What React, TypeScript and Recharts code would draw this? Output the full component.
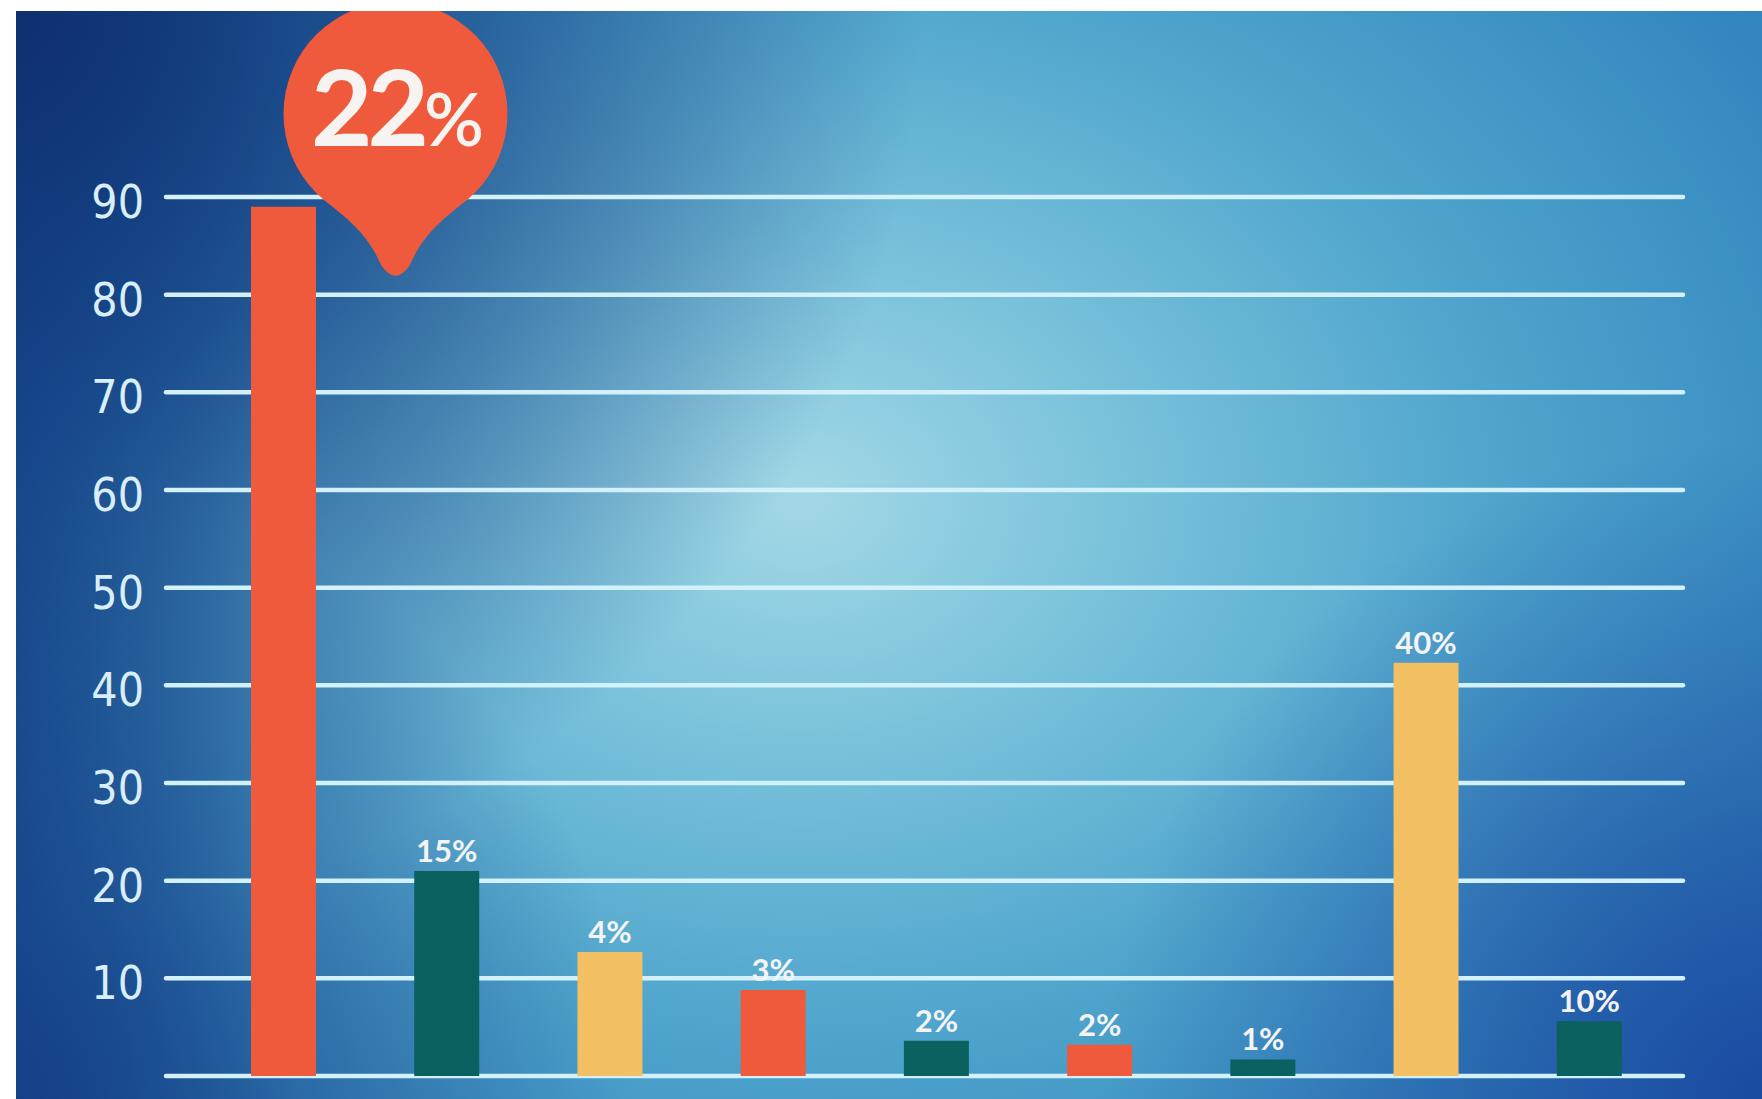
import { BarChart, Bar, XAxis, YAxis, CartesianGrid, Cell, LabelList } from "recharts";

const categories = ["1", "2", "3", "4", "5", "6", "7", "8", "9"];
const values = [89, 21, 12.7, 8.8, 3.6, 3.2, 1.7, 42.3, 5.6];
const labels = ["22%", "15%", "4%", "3%", "2%", "2%", "1%", "40%", "10%"];
const barColors = ["#f05a3c", "#0a6160", "#f3bf63", "#f05a3c", "#0a6160", "#f05a3c", "#0a6160", "#f3bf63", "#0a6160"];
const yTicks = [0, 10, 20, 30, 40, 50, 60, 70, 80, 90];

const data = categories.map((name, i) => ({ name, value: values[i], label: labels[i] }));

function Pin({ px, py, text }: { px: number; py: number; text: string }) {
  const d =
    `M ${px - 70} ${py + 87} C ${px - 45} ${py + 108} ${px - 28} ${py + 120} ${px - 14} ${py + 152} ` +
    `Q ${px} ${py + 172} ${px + 14} ${py + 152} C ${px + 28} ${py + 120} ${px + 45} ${py + 108} ${px + 70} ${py + 87} Z`;
  const num = text.replace("%", "");
  return (
    <g>
      <circle cx={px} cy={py} r={112} fill="#f05a3c" />
      <path d={d} fill="#f05a3c" />
      <text x={px + 2} y={py + 32} textAnchor="middle" fill="#f6f3f0" fontFamily="Lato" fontWeight={700}>
        <tspan fontSize={106} letterSpacing={-5}>{num}</tspan>
        <tspan fontSize={74} fontWeight={600}>%</tspan>
      </text>
    </g>
  );
}

function BarLabel(props: any) {
  const { x, y, width, value, index } = props;
  const cx = Number(x) + Number(width) / 2;
  if (index === 0) return <Pin px={cx + 112} py={Number(y) - 93} text={String(value)} />;
  return (
    <text x={cx} y={Number(y) - 9} textAnchor="middle" fill="#f4f4f4" fontFamily="Lato" fontWeight={700} fontSize={31}>
      {value}
    </text>
  );
}

function YTick(props: any) {
  const { x, y, payload } = props;
  if (payload.value === 0) return <g />;
  return (
    <text
      x={x}
      y={y + 21}
      textAnchor="end"
      fill="#d8eef8"
      fontFamily="'Liberation Sans Narrow', 'DejaVu Sans Condensed', 'Roboto', sans-serif"
      fontStretch="condensed"
      fontSize={46}
    >
      {payload.value}
    </text>
  );
}

const background = [
  "radial-gradient(circle at 0% 0%, rgba(14,48,112,1) 0%, rgba(16,58,128,0.75) 18%, rgba(22,80,150,0) 44%)",
  "radial-gradient(circle at 100% 100%, rgba(26,72,160,0.95) 0%, rgba(26,72,160,0) 32%)",
  "radial-gradient(circle at 0% 100%, rgba(20,62,134,0.9) 0%, rgba(20,62,134,0) 30%)",
  "linear-gradient(to right, rgba(20,68,136,0.75) 0%, rgba(20,68,136,0) 16%)",
  "radial-gradient(ellipse 90% 110% at 45% 45%, #a3d8e6 0%, #76c0da 22%, #4ea4cc 45%, #3488bf 70%, #2466ab 100%)",
].join(", ");

export default function App() {
  return (
    <div style={{ position: "absolute", left: 0, top: 0, width: 1762, height: 1099, background: "#ffffff" }}>
      <div
        style={{
          position: "absolute",
          left: 16,
          top: 11,
          width: 1746,
          height: 1088,
          overflow: "hidden",
          background,
        }}
      >
        <BarChart width={1746} height={1088} data={data} margin={{ top: 186, right: 79, bottom: 23, left: 0 }}>
          <CartesianGrid vertical={false} stroke="#d3f1fa" strokeWidth={4.5} strokeLinecap="round" />
          <XAxis dataKey="name" hide padding={{ left: 36, right: 12 }} />
          <YAxis
            width={150}
            domain={[0, 90]}
            ticks={yTicks}
            axisLine={false}
            tickLine={false}
            tickSize={0}
            tickMargin={22}
            tick={<YTick />}
          />
          <Bar dataKey="value" barSize={65} isAnimationActive={false}>
            {data.map((d, i) => (
              <Cell key={d.name} fill={barColors[i]} />
            ))}
            <LabelList dataKey="label" content={<BarLabel />} />
          </Bar>
        </BarChart>
      </div>
    </div>
  );
}
